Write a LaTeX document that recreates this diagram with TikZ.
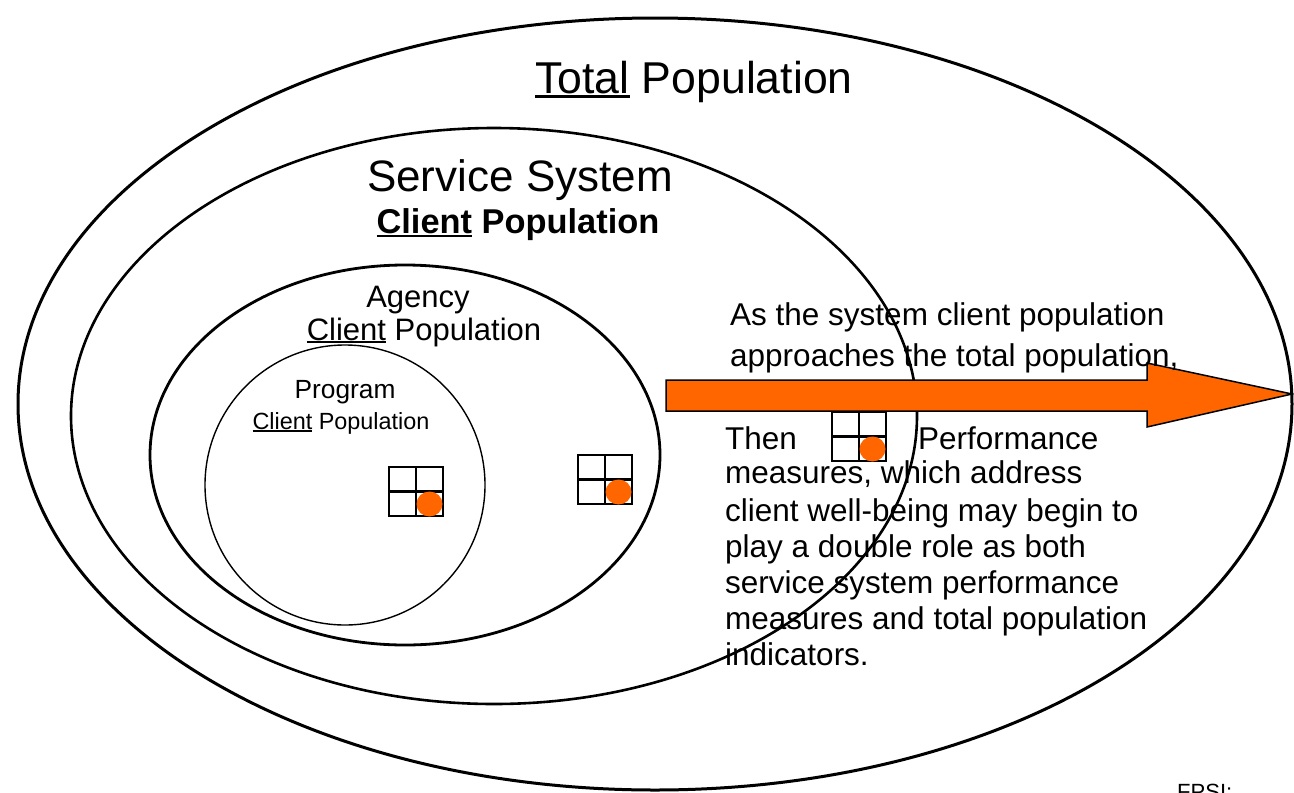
\documentclass[tikz,border=0pt]{standalone}
\usepackage{fontspec}
\setmainfont{Liberation Sans}
\usetikzlibrary{shapes.geometric}
\definecolor{orng}{HTML}{FF6600}
\newcommand\ulword[1]{\setbox0\hbox{#1}\rlap{\rule[-0.11em]{\wd0}{0.065em}}\box0\relax}
\newcommand\fs[1]{\fontsize{#1}{#1}\selectfont}
\tikzset{
  pop/.style={draw, ellipse, inner sep=0pt, line width=#1},
  lbl/.style={inner sep=0pt, anchor=base},
  body/.style={inner sep=0pt, anchor=base west, font=\fs{31.5}},
  cellgrid/.pic={
    \draw[line width=2.2pt] (0,0) rectangle (54,49) (27,0) -- (27,49) (0,24.5) -- (54,24.5);
    \fill[orng] (40.5,37) ellipse (13 and 12.5);
  }
}
\begin{document}
\begin{tikzpicture}[x=1pt,y=-1pt]
\useasboundingbox (0,0) rectangle (1294,793);
\fill[white] (0,0) rectangle (1294,793);
% populations
\node[pop=3pt, minimum width=1274, minimum height=772] (total) at (655,404) {};
\node[pop=2.6pt, minimum width=846, minimum height=576] (service) at (494,416) {};
\node[pop=2.8pt, minimum width=510, minimum height=380] (agency) at (405,455) {};
\node[pop=1.4pt, minimum width=280, minimum height=280] (program) at (345,485) {};
% labels
\node[lbl, font=\fs{44.6}] (ltotal) at (694,93) {\ulword{Total} Population};
\node[lbl, font=\fs{44}] (lservice) at (520,191) {Service System};
\node[lbl, font=\bfseries\fs{34.4}] (lserviceb) at (518,233) {\ulword{Client} Population};
\node[lbl, font=\fs{31}] (lagency) at (418,307) {Agency};
\node[lbl, font=\fs{31}] (lagencyb) at (424,340) {\ulword{Client} Population};
\node[lbl, font=\fs{26.3}] (lprogram) at (345,398) {Program};
\node[lbl, font=\fs{23.4}] (lprogramb) at (341,429) {\ulword{Client} Population};
% grids
\pic at (389,467) {cellgrid};
\pic at (578,455) {cellgrid};
\pic at (832,412) {cellgrid};
% arrow
\draw[fill=orng, line width=1.5pt, line join=miter]
  (666,380) -- (1147,380) -- (1147,363) -- (1292,394) -- (1147,427) -- (1147,411) -- (666,411) -- cycle;
% text
\node[body] (t1) at (730,325) {As the system client population};
\node[body] (t2) at (730,366) {approaches the total population,};
\node[body] (t3a) at (725,449) {Then};
\node[body] (t3b) at (918,449) {Performance};
\node[body] (t4) at (725,483) {measures, which address};
\node[body] (t5) at (725,521) {client well-being may begin to};
\node[body] (t6) at (725,557) {play a double role as both};
\node[body] (t7) at (725,593) {service system performance};
\node[body] (t8) at (725,629) {measures and total population};
\node[body] (t9) at (725,665) {indicators.};
\node[inner sep=0pt, anchor=base west, font=\fs{22}] (foot) at (1177,799) {FPSI:};
\end{tikzpicture}
\end{document}
